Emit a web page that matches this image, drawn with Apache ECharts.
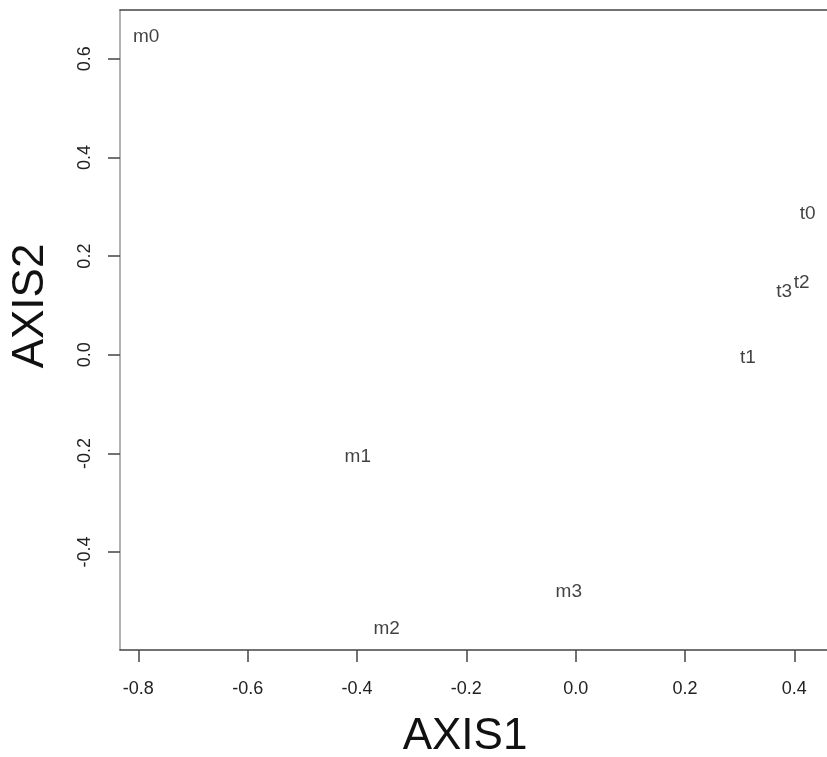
<!DOCTYPE html>
<html>
<head>
<meta charset="utf-8">
<script src="https://cdn.jsdelivr.net/npm/echarts@6/dist/echarts.min.js"></script>
<style>
html,body{margin:0;padding:0;background:#fff;}
#chart{width:827px;height:757px;}
</style>
</head>
<body>
<div id="chart"></div>
<script>
// Point labels and their coordinates (AXIS1, AXIS2)
var labels = ["m0", "m1", "m2", "m3", "t0", "t1", "t2", "t3"];
var axis1Values = [-0.7855, -0.3986, -0.3457, -0.0126, 0.4244, 0.3152, 0.4134, 0.3814];
var axis2Values = [0.644, -0.2064, -0.5556, -0.4809, 0.2867, -0.0051, 0.1461, 0.1278];
// Tick labels
var xTicks = [-0.8, -0.6, -0.4, -0.2, 0.0, 0.2, 0.4];
var yTicks = [-0.4, -0.2, 0.0, 0.2, 0.4, 0.6];
var xTitle = "AXIS1";
var yTitle = "AXIS2";

var FONT = "'Liberation Sans', Arial, sans-serif";
var points = labels.map(function (n, i) { return [axis1Values[i], axis2Values[i], n]; });

var chart = echarts.init(document.getElementById('chart'), null, { renderer: 'canvas' });
var xMin = -0.8335, xMax = 0.4597, yMin = -0.5986, yMax = 0.699;

chart.setOption({
  animation: false,
  backgroundColor: '#ffffff',
  grid: { left: 120, right: 0, top: 10, bottom: 107, containLabel: false },
  xAxis: [{
    type: 'value', position: 'bottom', min: xMin, max: xMax,
    splitLine: { show: false },
    axisLine: { show: true, onZero: false, lineStyle: { color: '#444', width: 1.5 } },
    axisTick: { show: true, inside: false, length: 12, customValues: xTicks, lineStyle: { color: '#444', width: 1.5 } },
    axisLabel: { show: true, margin: 30, customValues: xTicks, color: '#222', fontSize: 18, fontFamily: FONT,
      formatter: function (v) { return v.toFixed(1); } }
  }, {
    type: 'value', position: 'top', min: xMin, max: xMax,
    splitLine: { show: false },
    axisLine: { show: true, onZero: false, lineStyle: { color: '#444', width: 1.5 } },
    axisTick: { show: false }, axisLabel: { show: false }
  }],
  yAxis: [{
    type: 'value', position: 'left', min: yMin, max: yMax,
    splitLine: { show: false },
    axisLine: { show: true, onZero: false, lineStyle: { color: '#999', width: 1.5 } },
    axisTick: { show: true, inside: false, length: 12, customValues: yTicks, lineStyle: { color: '#444', width: 1.5 } },
    axisLabel: { show: true, margin: 26, rotate: 90, customValues: yTicks, color: '#222', fontSize: 18, fontFamily: FONT,
      formatter: function (v) { return v.toFixed(1); } }
  }],
  series: [{
    type: 'scatter',
    xAxisIndex: 0, yAxisIndex: 0,
    data: points,
    symbolSize: 1,
    itemStyle: { color: 'rgba(0,0,0,0)' },
    label: {
      show: true, position: 'inside', color: '#111', fontSize: 19, fontFamily: FONT,
      formatter: function (p) { return p.data[2]; }
    },
    emphasis: { disabled: true }
  }],
  graphic: [{
    type: 'text', x: 465, y: 737,
    style: { text: xTitle, fill: '#111', font: '44px ' + FONT, textAlign: 'center', textVerticalAlign: 'middle' }
  }, {
    type: 'text', x: 31, y: 306, rotation: Math.PI / 2,
    style: { text: yTitle, fill: '#111', font: '44px ' + FONT, textAlign: 'center', textVerticalAlign: 'middle' }
  }]
});
</script>
</body>
</html>
